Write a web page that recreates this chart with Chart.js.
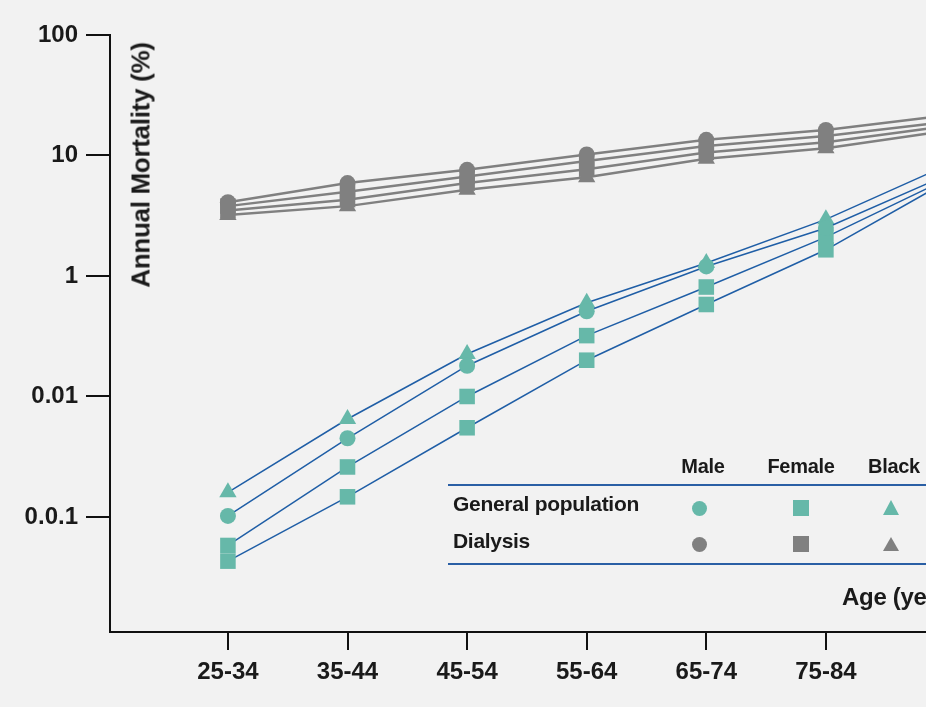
<!DOCTYPE html>
<html>
<head>
<meta charset="utf-8">
<script src="https://cdn.jsdelivr.net/npm/chart.js@4"></script>
<style>
  html, body { margin: 0; padding: 0; background: #f2f2f2; overflow: hidden; width: 926px; height: 707px; }
  #wrap { position: relative; width: 926px; height: 707px; overflow: hidden; }
  canvas { position: absolute; left: 0; top: 0; }
  .txt { position: absolute; font-family: "Liberation Sans", Arial, sans-serif; font-weight: bold; color: #1a1a1a; white-space: nowrap; }
  .ytitle { left: 141px; top: 165px; font-size: 26px; letter-spacing: -0.3px; transform: translate(-50%, -50%) rotate(-90deg); }
  .hdr { font-size: 20px; top: 455px; transform: translateX(-50%); letter-spacing: -0.3px; }
  .row { font-size: 21px; left: 453px; letter-spacing: -0.3px; }
  .rule { position: absolute; left: 448px; width: 520px; height: 2px; background: #2a5fa5; }
  .mk { position: absolute; }
  .circ { width: 15px; height: 15px; border-radius: 50%; }
  .sq { width: 16px; height: 16px; }
  .tri { width: 0; height: 0; border-left: 8px solid transparent; border-right: 8px solid transparent; }
</style>
</head>
<body>
<div id="wrap">
  <canvas id="chart" width="1100" height="707"></canvas>
  <div class="txt ytitle">Annual Mortality (%)</div>

  <div class="txt hdr" style="left:703px">Male</div>
  <div class="txt hdr" style="left:801px">Female</div>
  <div class="txt hdr" style="left:894px">Black</div>
  <div class="rule" style="top:484px"></div>
  <div class="txt row" style="top:492px">General population</div>
  <div class="txt row" style="top:529px">Dialysis</div>
  <div class="rule" style="top:563px"></div>

  <div class="mk circ" style="left:692px; top:501px; background:#66b8a9"></div>
  <div class="mk sq" style="left:793px; top:500px; background:#66b8a9"></div>
  <div class="mk tri" style="left:883px; top:500px; border-bottom:15px solid #66b8a9"></div>
  <div class="mk circ" style="left:692px; top:537px; background:#808080"></div>
  <div class="mk sq" style="left:793px; top:536px; background:#808080"></div>
  <div class="mk tri" style="left:883px; top:537px; border-bottom:14px solid #808080"></div>

  <div class="txt" style="left:842px; top:583px; font-size:24px; letter-spacing:-0.3px">Age (years)</div>
</div>
<script>
// age groups on the x axis
const ageGroups = ["25-34", "35-44", "45-54", "55-64", "65-74", "75-84", ">85"];

// y ticks (log scale) and their printed labels, as in the original figure
const yTickValues = [100, 10, 1, 0.1, 0.01];
const yTickLabels = ["100", "10", "1", "0.01", "0.0.1"];

// annual mortality (%), general population
const genMale   = [0.0102, 0.045, 0.18, 0.51, 1.2, 2.5, 6.8];
const genFemale = [0.0043, 0.0147, 0.055, 0.2, 0.58, 1.65, 6.0];
const genBlack  = [0.016, 0.065, 0.225, 0.6, 1.28, 2.95, 8.2];
const genWhite  = [0.0058, 0.026, 0.1, 0.32, 0.81, 2.1, 6.3];

// annual mortality (%), dialysis
const dialMale   = [4.1, 5.9, 7.6, 10.2, 13.5, 16.3, 21.5];
const dialFemale = [3.8, 5.0, 6.7, 9.0, 12.0, 14.5, 19.0];
const dialBlack  = [3.2, 3.8, 5.2, 6.6, 9.4, 11.5, 16.0];
const dialWhite  = [3.5, 4.3, 5.9, 7.7, 10.6, 12.9, 17.5];

const TEAL = "#66b8a9";
const BLUE = "#1f5ea6";
const GREY = "#808080";

function series(label, values, style, radius, line, marker, width) {
  return {
    label: label,
    data: values.map((v, i) => ({ x: i, y: v })),
    borderColor: line,
    borderWidth: width,
    backgroundColor: marker,
    pointBackgroundColor: marker,
    pointBorderWidth: 0,
    pointStyle: style,
    pointRadius: radius,
    pointHoverRadius: radius,
    tension: 0
  };
}

const tickFont = { family: "'Liberation Sans', Arial, sans-serif", size: 24, weight: "bold" };

new Chart(document.getElementById("chart"), {
  type: "line",
  data: {
    datasets: [
      series("Dialysis male", dialMale, "circle", 8, GREY, GREY, 2.5),
      series("Dialysis female", dialFemale, "rect", 11, GREY, GREY, 2.5),
      series("Dialysis black", dialBlack, "triangle", 10, GREY, GREY, 2.5),
      series("Dialysis white", dialWhite, "rect", 11, GREY, GREY, 2.5),
      series("General male", genMale, "circle", 8, BLUE, TEAL, 1.5),
      series("General female", genFemale, "rect", 11, BLUE, TEAL, 1.5),
      series("General black", genBlack, "triangle", 10, BLUE, TEAL, 1.5),
      series("General white", genWhite, "rect", 11, BLUE, TEAL, 1.5)
    ]
  },
  options: {
    responsive: false,
    animation: false,
    layout: { padding: { top: 35, right: 0, left: 0, bottom: 0 } },
    plugins: {
      legend: { display: false },
      tooltip: { enabled: false }
    },
    scales: {
      x: {
        type: "linear",
        min: -0.986,
        max: 7.2,
        afterBuildTicks: s => { s.ticks = ageGroups.map((_, i) => ({ value: i })); },
        afterFit: s => { s.height = 75; },
        border: { display: true, color: "#111", width: 2 },
        grid: { display: true, drawOnChartArea: false, drawTicks: true, tickLength: 18, color: "#111", lineWidth: 2 },
        ticks: {
          callback: v => ageGroups[v],
          font: tickFont,
          color: "#1a1a1a",
          padding: 8,
          maxRotation: 0,
          autoSkip: false
        }
      },
      y: {
        type: "logarithmic",
        min: 0.00111,
        max: 100,
        afterBuildTicks: s => { s.ticks = yTickValues.map(v => ({ value: v })); },
        afterFit: s => { s.width = 110; },
        border: { display: true, color: "#111", width: 2 },
        grid: { display: true, drawOnChartArea: false, drawTicks: true, tickLength: 24, color: "#111", lineWidth: 2 },
        ticks: {
          callback: v => yTickLabels[yTickValues.indexOf(v)],
          font: tickFont,
          color: "#1a1a1a",
          padding: 8,
          autoSkip: false
        }
      }
    }
  }
});
</script>
</body>
</html>
